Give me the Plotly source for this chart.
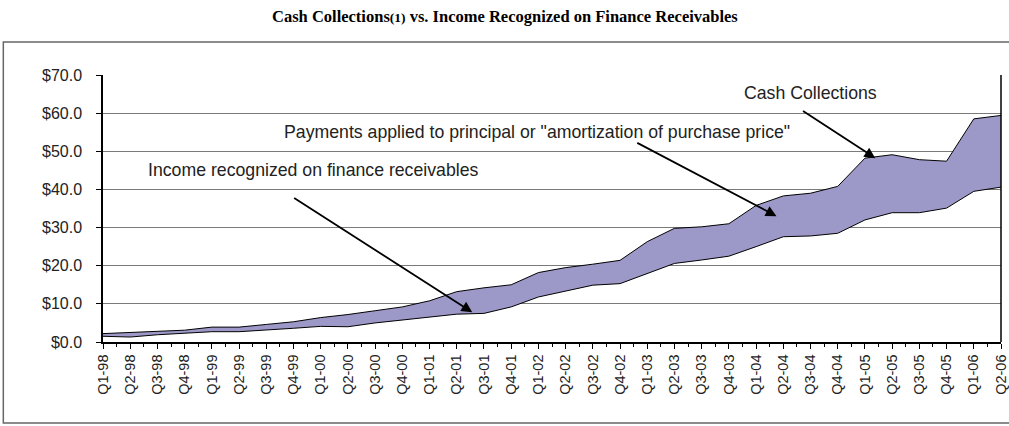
import plotly.graph_objects as go

quarters = ["Q1-98","Q2-98","Q3-98","Q4-98","Q1-99","Q2-99","Q3-99","Q4-99",
            "Q1-00","Q2-00","Q3-00","Q4-00","Q1-01","Q2-01","Q3-01","Q4-01",
            "Q1-02","Q2-02","Q3-02","Q4-02","Q1-03","Q2-03","Q3-03","Q4-03",
            "Q1-04","Q2-04","Q3-04","Q4-04","Q1-05","Q2-05","Q3-05","Q4-05",
            "Q1-06","Q2-06"]
income = [1.5, 1.3, 1.9, 2.3, 2.7, 2.7, 3.1, 3.6, 4.1, 4.0, 5.0, 5.8, 6.6, 7.3, 7.5, 9.2,
          11.8, 13.3, 14.9, 15.3, 18.0, 20.6, 21.5, 22.5, 25.0, 27.6, 27.8, 28.5,
          32.0, 33.9, 33.9, 35.1, 39.5, 40.6]
cash = [2.2, 2.5, 2.9, 3.1, 3.9, 3.9, 4.6, 5.3, 6.4, 7.2, 8.2, 9.2, 10.8, 13.2, 14.2, 15.0,
        18.2, 19.5, 20.4, 21.4, 26.3, 29.8, 30.2, 31.0, 35.8, 38.3, 39.0, 40.8,
        48.2, 49.1, 47.8, 47.4, 58.5, 59.4]
y_ticks = [0, 10, 20, 30, 40, 50, 60, 70]

xi = list(range(len(quarters)))

fig = go.Figure()
fig.add_trace(go.Scatter(x=xi, y=income, mode="lines",
                         line=dict(color="black", width=1), showlegend=False, hoverinfo="skip"))
fig.add_trace(go.Scatter(x=xi, y=cash, mode="lines", fill="tonexty",
                         fillcolor="#9c99c9",
                         line=dict(color="black", width=1), showlegend=False, hoverinfo="skip"))

font_main = dict(family="Liberation Sans, Arial, sans-serif", size=17.7, color="#222")

annotations = [
    dict(x=26.0, y=65.3, text="Cash Collections", showarrow=False, font=font_main),
    dict(x=15.95, y=55.0, text='Payments applied to principal or "amortization of purchase price"',
         showarrow=False, font=font_main),
    dict(x=7.74, y=45.1, text="Income recognized on finance receivables", showarrow=False, font=font_main),
    dict(x=28.38, y=48.2, ax=25.67, ay=60.8, axref="x", ayref="y", text="", showarrow=True,
         arrowhead=2, arrowsize=1.2, arrowwidth=1.8, arrowcolor="black"),
    dict(x=24.75, y=33.0, ax=19.58, ay=52.4, axref="x", ayref="y", text="", showarrow=True,
         arrowhead=2, arrowsize=1.2, arrowwidth=1.8, arrowcolor="black"),
    dict(x=13.57, y=7.8, ax=6.97, ay=38.0, axref="x", ayref="y", text="", showarrow=True,
         arrowhead=2, arrowsize=1.2, arrowwidth=1.8, arrowcolor="black"),
    dict(xref="paper", yref="paper", x=(505 - 103) / 898, y=(342 - 17) / 267,
         xanchor="center", yanchor="middle", showarrow=False,
         text="<b>Cash Collections<span style='font-size:13.5px'>(1)</span> vs. Income Recognized on Finance Receivables</b>",
         font=dict(family="Liberation Serif, Times New Roman, serif", size=16.5, color="black")),
]

fig.update_layout(
    width=1009, height=426,
    margin=dict(l=103, r=8, t=75, b=84, autoexpand=False),
    paper_bgcolor="white", plot_bgcolor="white",
    annotations=annotations,
    shapes=[dict(type="rect", xref="paper", yref="paper",
                 x0=-0.111, x1=1.05, y0=-0.303, y1=1.124,
                 line=dict(color="#666", width=1.5), fillcolor="rgba(0,0,0,0)", layer="below")],
)

fig.update_xaxes(range=[-0.0001, 33.0001], tickmode="array", tickvals=xi, ticktext=quarters,
                 tickangle=-90, ticks="outside", ticklen=5, tickcolor="black",
                 showline=True, linecolor="black", linewidth=1.5, showgrid=False, zeroline=False,
                 automargin=False, ticklabeloverflow="allow",
                 tickfont=dict(family="Liberation Sans, Arial, sans-serif", size=14.5, color="#222"),
                 minor=dict(dtick=0.5, tick0=0.5, ticks="outside", ticklen=3, tickcolor="black"))
fig.update_yaxes(range=[0, 70], tickmode="array", tickvals=y_ticks,
                 ticktext=["$%.1f" % v for v in y_ticks],
                 ticks="outside", ticklen=5, tickcolor="black",
                 showline=True, linecolor="black", linewidth=1.5, automargin=False,
                 showgrid=True, gridcolor="#7a7a7a", gridwidth=1.2, zeroline=False,
                 ticklabelstandoff=11,
                 tickfont=dict(family="Liberation Sans, Arial, sans-serif", size=16, color="#222"))

# right border line of the plot area
fig.add_shape(type="line", xref="paper", yref="paper", x0=1, x1=1, y0=0, y1=1,
              line=dict(color="black", width=1.5))

fig.write_html("out.html", config={"displayModeBar": False},
               post_script="document.body.style.margin='0px';document.body.style.overflow='hidden';")
